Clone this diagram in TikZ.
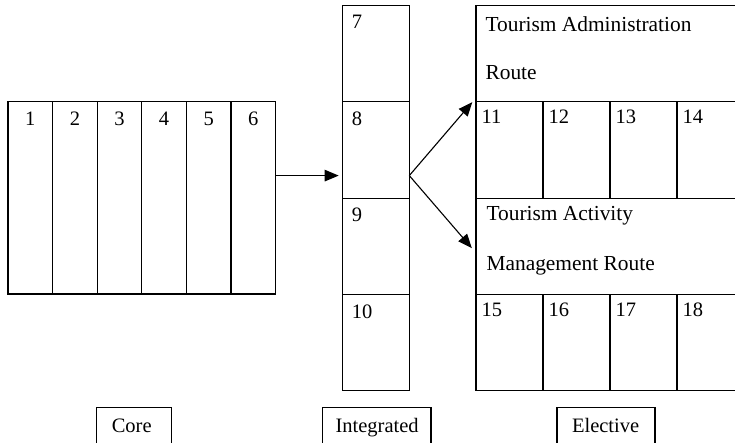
\documentclass[tikz,border=0pt]{standalone}
\usepackage{fontspec}
\setmainfont{Liberation Serif}
\usetikzlibrary{arrows.meta,calc}
\begin{document}
\begin{tikzpicture}[x=1pt,y=-1pt,
  line width=1.1pt,
  cellbox/.style 2 args={draw, line width=1.1pt, inner sep=0pt, outer sep=0pt,
    minimum width=#1, minimum height=#2, anchor=north west},
  numtxt/.style={inner sep=0pt, font=\fontsize{20.5}{23}\selectfont},
  routetxt/.style={inner sep=0pt, anchor=base west, font=\fontsize{21.4}{25}\selectfont},
  captxt/.style={inner sep=0pt, anchor=base west, font=\fontsize{20.5}{23}\selectfont},
  arr/.style={-{Triangle[length=14pt,width=11.5pt]}, line width=1.1pt}]
\useasboundingbox (0,0) rectangle (735,443);

% Core block: six columns
\foreach \i in {1,...,6}{
  \node[cellbox={44.6pt}{192.3pt}] (c\i) at ({8+44.6*(\i-1)},101.7) {};
  \node[numtxt, anchor=base] (cn\i) at ($(c\i.north)+(0,23.5)$) {\i};
}

% Integrated column: four rows
\foreach \i [count=\k from 0] in {7,...,10}{
  \node[cellbox={66.6pt}{96.4pt}] (m\i) at (342.7,{5.3+96.4*\k}) {};
  \node[numtxt, anchor=base west] (mn\i) at ($(m\i.north west)+(8.5,23.5)$) {\i};
}

% Elective block: route headers and course columns
\node[cellbox={268pt}{96.4pt}] (ra) at (476,5.3) {};
\node[routetxt] (rat1) at ($(ra.north west)+(9,26.4)$) {Tourism Administration};
\node[routetxt] (rat2) at ($(ra.north west)+(9,74.7)$) {Route};
\foreach \i [count=\k from 0] in {11,...,14}{
  \node[cellbox={67pt}{96.4pt}] (r\i) at ({476+67*\k},101.7) {};
  \node[numtxt, anchor=base west] (rn\i) at ($(r\i.north west)+(5,21.8)$) {\i};
}
\node[cellbox={268pt}{96.4pt}] (rb) at (476,198.1) {};
\node[routetxt] (rbt1) at ($(rb.north west)+(10,22)$) {Tourism Activity};
\node[routetxt] (rbt2) at ($(rb.north west)+(10,72)$) {Management Route};
\foreach \i [count=\k from 0] in {15,...,18}{
  \node[cellbox={67pt}{96.4pt}] (r\i) at ({476+67*\k},294.5) {};
  \node[numtxt, anchor=base west] (rn\i) at ($(r\i.north west)+(5,21.8)$) {\i};
}

% Captions
\node[cellbox={74.5pt}{60pt}] (core) at (96.7,407.3) {};
\node[captxt] (coret) at ($(core.north west)+(14.5,25)$) {Core};
\node[cellbox={108.5pt}{60pt}] (integ) at (322.5,407.3) {};
\node[captxt] (integt) at ($(integ.north west)+(12.5,25)$) {Integrated};
\node[cellbox={98pt}{60pt}] (elect) at (557,407.3) {};
\node[captxt] (electt) at ($(elect.north west)+(14.5,25)$) {Elective};

% Connectors
\coordinate (hub) at ($(m8.south east)+(0,-22.5)$);
\coordinate (tipA) at ($(hub)+(63,-73.5)$);
\coordinate (tipB) at ($(hub)+(62.5,72.5)$);
\draw[arr, shorten >=4pt] (c6.east |- hub) -- (m8.west |- hub);
\draw[arr] (hub) -- (tipA);
\draw[arr] (hub) -- (tipB);
\end{tikzpicture}
\end{document}
